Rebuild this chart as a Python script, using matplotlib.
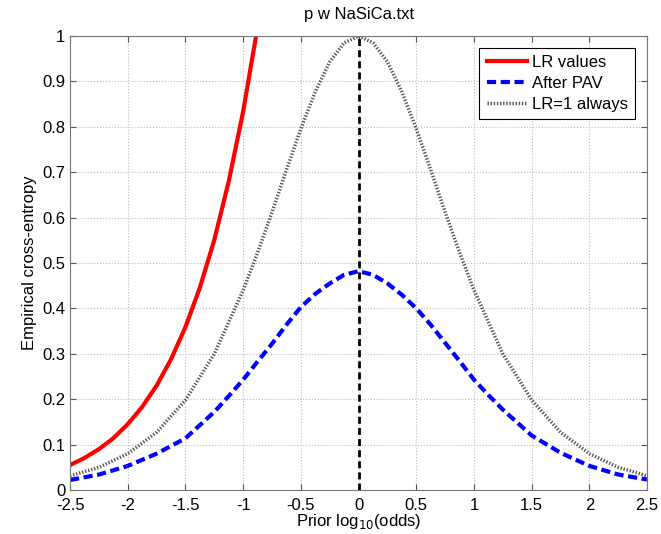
import matplotlib.pyplot as plt

plt.rcParams['font.family'] = ['Liberation Sans', 'DejaVu Sans']

# LR values (clipped at the top of the plot)
lr_x = [-2.5, -2.375, -2.25, -2.125, -2.0, -1.875, -1.75, -1.625, -1.5,
        -1.375, -1.25, -1.125, -1.0, -0.875]
lr_y = [0.055, 0.0705, 0.090, 0.114, 0.145, 0.183, 0.230, 0.288, 0.359,
        0.446, 0.551, 0.680, 0.834, 1.02]

# after PAV
pav_x = [-2.5, -2.25, -2.0, -1.75, -1.5, -1.25, -1.125, -1.0, -0.875, -0.75, -0.625,
         -0.5, -0.375, -0.25, -0.125, 0.0, 0.125, 0.25, 0.375, 0.5, 0.625, 0.75,
         0.875, 1.0, 1.125, 1.25, 1.5, 1.75, 2.0, 2.25, 2.5]
pav_y = [0.022, 0.034, 0.053, 0.080, 0.114, 0.172, 0.207, 0.243, 0.283, 0.322, 0.364,
         0.403, 0.432, 0.455, 0.474, 0.482, 0.474, 0.455, 0.430, 0.400, 0.364, 0.324,
         0.284, 0.243, 0.209, 0.177, 0.120, 0.082, 0.053, 0.034, 0.023]

# LR=1 always (reference)
ref_x = [-2.5, -2.25, -2.0, -1.75, -1.5, -1.25, -1.0, -0.875, -0.75, -0.625, -0.5,
         -0.375, -0.25, -0.125, 0.0, 0.125, 0.25, 0.375, 0.5, 0.625, 0.75, 0.875,
         1.0, 1.25, 1.5, 1.75, 2.0, 2.25, 2.5]
ref_y = [0.031, 0.050, 0.080, 0.127, 0.198, 0.300, 0.440, 0.523, 0.612, 0.705, 0.796,
         0.877, 0.943, 0.985, 1.0, 0.985, 0.943, 0.877, 0.796, 0.705, 0.612, 0.523,
         0.440, 0.300, 0.198, 0.127, 0.080, 0.050, 0.031]

fig = plt.figure(figsize=(6.61, 5.34), dpi=100)
ax = fig.add_axes([0.106, 0.0824, 0.873, 0.8502])

ax.plot(lr_x, lr_y, color='red', lw=3, label='LR values')
ax.plot(pav_x, pav_y, color='blue', lw=3, ls=(0, (2.2, 1.1)), label='After PAV')
ax.plot(ref_x, ref_y, color='#555555', lw=2.5, ls=(0, (0.4, 0.5)), label='LR=1 always')
ax.plot([0, 0], [0, 1], color='black', lw=2, ls=(0, (2.5, 1.5)))

ax.set_xlim(-2.5, 2.5)
ax.set_ylim(0, 1)
ax.set_xticks([-2.5, -2, -1.5, -1, -0.5, 0, 0.5, 1, 1.5, 2, 2.5])
ax.set_xticklabels(['-2.5', '-2', '-1.5', '-1', '-0.5', '0', '0.5', '1', '1.5', '2', '2.5'])
ax.set_yticks([0, 0.1, 0.2, 0.3, 0.4, 0.5, 0.6, 0.7, 0.8, 0.9, 1])
ax.set_yticklabels(['0', '0.1', '0.2', '0.3', '0.4', '0.5', '0.6', '0.7', '0.8', '0.9', '1'])
ax.grid(True, color='#bbbbbb', ls=':', lw=0.8)
ax.tick_params(direction='in', labelsize=12, length=4, color='#555555', top=True, right=True)
ax.tick_params(axis='x', pad=6)
for s in ax.spines.values():
    s.set_color('#777777')

ax.set_title('p w NaSiCa.txt', fontsize=12, pad=12)
ax.set_xlabel('Prior log$_{10}$(odds)', fontsize=12, labelpad=-1)
ax.set_ylabel('Empirical cross-entropy', fontsize=12, labelpad=4)

leg = ax.legend(loc='upper right', fontsize=12, fancybox=False, edgecolor='black',
                handlelength=2.4, handletextpad=0.3, borderpad=0.45, labelspacing=0.35,
                borderaxespad=0.7, framealpha=1)
leg.get_frame().set_linewidth(0.8)

fig.savefig('out.png', dpi=100)
